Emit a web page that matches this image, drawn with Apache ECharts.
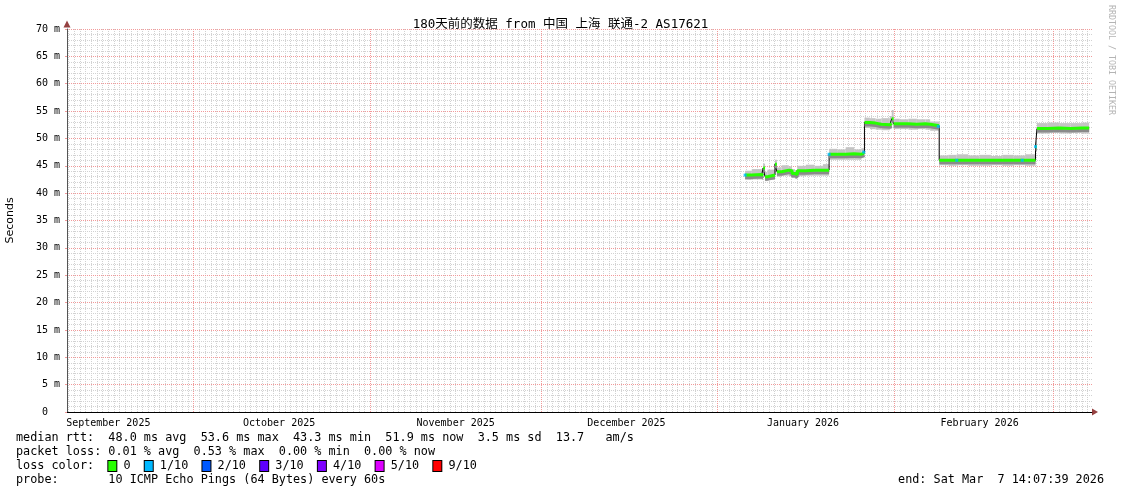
<!DOCTYPE html>
<html><head><meta charset="utf-8">
<script src="https://cdn.jsdelivr.net/npm/echarts@6/dist/echarts.min.js"></script>
<style>html,body{margin:0;padding:0;background:#fff}#c{width:1121px;height:494px}</style>
</head><body><div id="c"></div>
<script>
// ---------- axis range / tick labels ----------
const startTime = Date.UTC(2025, 8, 8, 18, 0, 0);
const endTime = startTime + 180 * 86400000;
const monthLabels = ['September 2025','October 2025','November 2025','December 2025','January 2026','February 2026'];
const monthLabelDates = ['2025-09-16T00:00Z','2025-10-16T00:00Z','2025-11-16T00:00Z','2025-12-16T00:00Z','2026-01-16T00:00Z','2026-02-16T00:00Z'];
const monthStarts = ['2025-10-01T00:00Z','2025-11-01T00:00Z','2025-12-01T00:00Z','2026-01-01T00:00Z','2026-02-01T00:00Z','2026-03-01T00:00Z'];
const yMajorTicks = [0,5,10,15,20,25,30,35,40,45,50,55,60,65,70];

// ---------- data ----------
const times = [
 '2026-01-05T20:00Z','2026-01-07T00:00Z','2026-01-08T18:00Z','2026-01-09T00:00Z','2026-01-09T08:00Z',
 '2026-01-09T18:00Z','2026-01-11T02:00Z','2026-01-11T10:00Z','2026-01-12T06:00Z','2026-01-13T12:00Z',
 '2026-01-14T02:00Z','2026-01-14T14:00Z','2026-01-15T00:00Z','2026-01-16T12:00Z','2026-01-18T00:00Z',
 '2026-01-19T12:00Z','2026-01-20T14:00Z','2026-01-22T00:00Z','2026-01-23T12:00Z','2026-01-25T00:00Z',
 '2026-01-26T06:00Z','2026-01-26T19:00Z','2026-01-27T18:00Z','2026-01-28T18:00Z','2026-01-29T18:00Z',
 '2026-01-31T06:00Z','2026-01-31T14:00Z','2026-01-31T22:00Z','2026-02-02T00:00Z','2026-02-03T12:00Z',
 '2026-02-05T00:00Z','2026-02-06T12:00Z','2026-02-07T08:00Z','2026-02-08T22:00Z','2026-02-10T12:00Z',
 '2026-02-12T00:00Z','2026-02-14T00:00Z','2026-02-16T00:00Z','2026-02-18T00:00Z','2026-02-20T00:00Z',
 '2026-02-22T00:00Z','2026-02-24T00:00Z','2026-02-25T20:00Z','2026-02-26T02:00Z','2026-02-28T00:00Z',
 '2026-03-02T00:00Z','2026-03-04T00:00Z','2026-03-06T00:00Z','2026-03-07T06:00Z'
];
const median = [
 43.3,43.4,43.2,44.6,43.0, 43.3,45.3,43.9,44.2,44.1, 43.6,43.4,44.1,44.2,44.2,
 44.2,47.1,47.1,47.2,47.1, 47.4,52.9,52.8,52.6,52.5, 52.7,53.6,52.7,52.7,52.6,
 52.7,52.6,52.3,46.0,46.0, 46.0,46.0,46.0,46.0,46.0, 46.0,46.0,48.5,51.8,51.9,
 51.8,51.9,51.9,51.9
];
const smokeMin = [
 42.4,42.5,42.4,43.6,42.2, 42.4,44.2,43.0,43.2,43.1, 42.8,42.6,43.1,43.2,43.2,
 43.2,46.1,46.1,46.1,46.1, 46.4,51.9,51.7,51.6,51.5, 51.7,52.5,51.7,51.7,51.6,
 51.7,51.6,51.4,45.1,45.0, 45.1,45.0,45.0,45.1,45.0, 45.1,45.0,47.6,50.9,51.0,
 50.9,51.0,50.9,50.9
];
const smokeMax = [
 44.1,44.4,44.1,45.4,43.9, 44.3,46.1,44.7,45.1,44.9, 44.4,44.2,45.0,45.2,45.0,
 45.3,48.1,48.0,48.4,48.0, 48.2,53.8,53.7,53.6,53.7, 54.1,55.2,53.6,53.5,53.6,
 53.5,53.5,53.1,46.9,47.0, 47.1,46.9,47.0,46.8,47.0, 46.9,47.1,49.3,52.8,52.9,
 52.8,52.8,52.9,52.8
];
const loss1Times = ['2026-01-05T20:00Z','2026-01-20T14:00Z','2026-01-26T16:00Z','2026-02-08T18:00Z','2026-02-12T00:00Z','2026-02-23T12:00Z','2026-02-25T20:00Z'];
const loss1Values = [43.3,47.1,47.5,52.2,46.0,46.0,48.5];

const statsLines = [
 'median rtt:  48.0 ms avg  53.6 ms max  43.3 ms min  51.9 ms now  3.5 ms sd  13.7   am/s',
 'packet loss: 0.01 % avg  0.53 % max  0.00 % min  0.00 % now',
 'probe:       10 ICMP Echo Pings (64 Bytes) every 60s'
];
const lossNames = ['0','1/10','2/10','3/10','4/10','5/10','9/10'];
const lossColors = ['#26ff00','#00b8ff','#0059ff','#5e00ff','#7e00ff','#dd00ff','#ff0000'];
const endText = 'end: Sat Mar  7 14:07:39 2026';
const titleText = '180天前的数据 from 中国 上海 联通-2 AS17621';

// ---------- build ----------
const T = times.map(s => Date.parse(s));
const DAY = 86400000;
const monthStartTs = monthStarts.map(s => Date.parse(s));
const labelTs = monthLabelDates.map(s => Date.parse(s));
const dayTicks = [];
for (let t = Math.ceil(startTime / DAY) * DAY; t < endTime; t += DAY) {
  if (monthStartTs.indexOf(t) < 0) dayTicks.push(t);
}
const yMinorTicks = [];
for (let v = 1; v < 70; v++) if (yMajorTicks.indexOf(v) < 0) yMinorTicks.push(v);

// smoke band segments: [tStart, tEnd, min, max]
const smokeData = [];
for (let i = 0; i < T.length - 1; i++) smokeData.push([T[i], T[i + 1], smokeMin[i], smokeMax[i]]);
const medData = T.map((t, i) => [t, median[i]]);
const greenData = [];
for (let i = 0; i < T.length; i++) {
  greenData.push([T[i], median[i]]);
  if (i < T.length - 1 && Math.abs(median[i + 1] - median[i]) > 0.85) {
    greenData.push([T[i + 1], median[i]]);
    greenData.push([T[i + 1], null]);
  }
}
const loss1Data = loss1Times.map((s, i) => [Date.parse(s), loss1Values[i]]);

const mono = '"DejaVu Sans Mono", monospace';
const FS = 11.8;

let rich = {};
let lossStr = 'loss color:  ';
lossColors.forEach((c, i) => {
  rich['b' + i] = { width: 8, height: 10, backgroundColor: c, borderColor: '#000', borderWidth: 1 };
  lossStr += '{b' + i + '| } ' + lossNames[i] + (i < lossColors.length - 1 ? '  ' : '');
});

const textEl = (txt, x, y, align) => ({
  type: 'text', x: x, y: y,
  style: { text: txt, fontFamily: mono, fontSize: FS, fill: '#000', align: align || 'left', verticalAlign: 'middle' }
});

const RED = '#f29a9a';
const GRAY = '#d2d2d2';

const chart = echarts.init(document.getElementById('c'), null, { renderer: 'canvas' });
chart.setOption({
  backgroundColor: '#ffffff',
  animation: false,
  title: {
    text: titleText, left: 'center', top: 13,
    textStyle: { fontFamily: '"DejaVu Sans Mono", "Noto Sans CJK SC", monospace', fontSize: 12.5, fontWeight: 'normal', color: '#000' }
  },
  grid: { left: 67, right: 29, top: 29, bottom: 82, containLabel: false, outerBoundsMode: 'none' },
  xAxis: [
    {
      type: 'value', min: startTime, max: endTime, position: 'bottom',
      axisLine: { show: true, onZero: false, lineStyle: { color: '#000', width: 1 } },
      axisTick: { show: false, customValues: monthStartTs },
      splitLine: { show: true, lineStyle: { color: RED, width: 1, type: [1, 1] } },
      axisLabel: {
        customValues: labelTs, margin: 6, color: '#000', fontFamily: mono, fontSize: 10,
        formatter: v => { const k = labelTs.indexOf(v); return k >= 0 ? monthLabels[k] : ''; },
        hideOverlap: false
      },
      z: 1
    },
    {
      type: 'value', min: startTime, max: endTime, position: 'top',
      axisLine: { show: false }, axisLabel: { show: false },
      axisTick: { show: false, customValues: dayTicks },
      splitLine: { show: true, lineStyle: { color: GRAY, width: 1, type: [1, 1] } },
      z: 0
    }
  ],
  yAxis: [
    {
      type: 'value', min: 0, max: 70, interval: 5, position: 'left',
      name: 'Seconds', nameLocation: 'middle', nameGap: 51, nameRotate: 90,
      nameTextStyle: { fontFamily: '"DejaVu Sans", sans-serif', fontSize: 11, color: '#000' },
      axisLine: { show: true, lineStyle: { color: '#555', width: 1 } },
      axisTick: { show: true, length: 2, lineStyle: { color: RED } },
      axisLabel: { margin: 7, color: '#000', fontFamily: mono, fontSize: 10, formatter: v => v === 0 ? '0  ' : v + ' m' },
      splitLine: { show: true, lineStyle: { color: RED, width: 1, type: [1, 1] } },
      z: 1
    },
    {
      type: 'value', min: 0, max: 70, position: 'right',
      axisLine: { show: false }, axisLabel: { show: false },
      axisTick: { show: false, customValues: yMinorTicks },
      splitLine: { show: true, lineStyle: { color: GRAY, width: 1, type: [1, 1] } },
      z: 0
    }
  ],
  series: [
    { type: 'custom', data: smokeData, silent: true, z: 2,
      encode: { x: [0, 1], y: [2, 3] },
      renderItem: (params, api) => {
        const p1 = api.coord([api.value(0), api.value(3)]);
        const p2 = api.coord([api.value(1), api.value(2)]);
        return { type: 'rect', shape: { x: p1[0], y: p1[1], width: p2[0] - p1[0], height: p2[1] - p1[1] },
                 style: { fill: '#c4c4c4' } };
      }
    },
    { type: 'line', data: medData, step: 'end', symbol: 'none', silent: true,
      lineStyle: { color: '#000', width: 1 }, z: 3 },
    { type: 'line', data: greenData, step: 'end', symbol: 'none', silent: true, connectNulls: false,
      lineStyle: { color: '#26ff00', width: 3, shadowColor: '#8a8a8a', shadowOffsetY: 2.5, shadowBlur: 0 }, z: 4 },
    { type: 'scatter', data: loss1Data, symbol: 'rect', symbolSize: [3, 3], silent: true,
      itemStyle: { color: '#00b8ff' }, z: 5 },
    { type: 'scatter', data: [[startTime, 70]], symbol: 'triangle', symbolSize: [7, 7], symbolOffset: [0, -5],
      itemStyle: { color: '#7a1212' }, silent: true, clip: false, z: 6 },
    { type: 'scatter', data: [[endTime, 0]], symbol: 'path://M0,0 L10,5 L0,10 Z', symbolSize: [6, 7], symbolOffset: [3, 0],
      itemStyle: { color: '#7a1212' }, silent: true, clip: false, z: 6 }
  ],
  graphic: [
    textEl(statsLines[0], 16, 438),
    textEl(statsLines[1], 16, 452),
    { type: 'text', x: 16, y: 466,
      style: { text: lossStr, fontFamily: mono, fontSize: FS, fill: '#000', verticalAlign: 'middle', rich: rich } },
    textEl(statsLines[2], 16, 480),
    textEl(endText, 1104, 480, 'right'),
    { type: 'text', x: 1111, y: 5, rotation: -Math.PI / 2,
      style: { text: 'RRDTOOL / TOBI OETIKER', fontFamily: mono, fontSize: 8.3, fill: '#b4b4b4', align: 'left', verticalAlign: 'middle' } }
  ]
});
</script>
</body></html>
